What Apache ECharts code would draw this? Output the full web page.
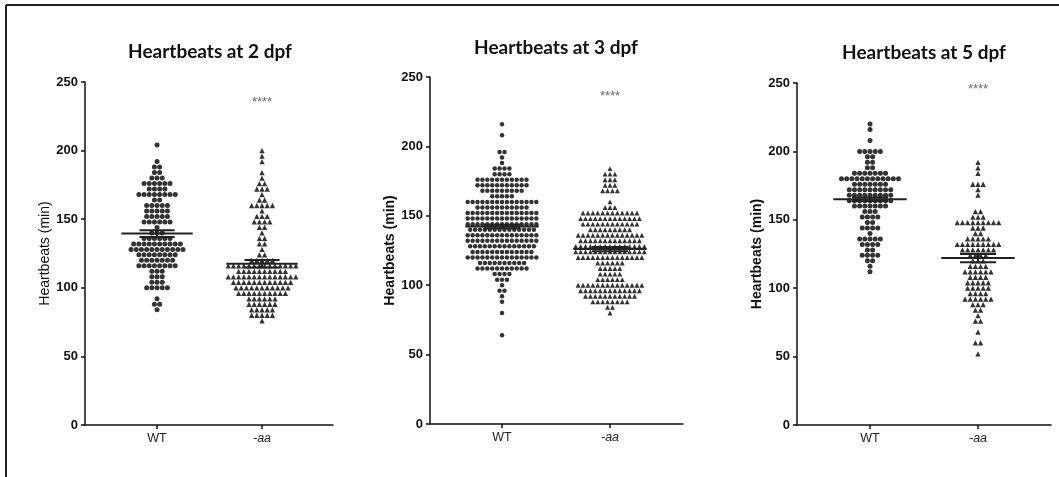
<!DOCTYPE html>
<html>
<head>
<meta charset="utf-8">
<script src="https://cdn.jsdelivr.net/npm/echarts@6/dist/echarts.min.js"></script>
<style>
  html, body { margin: 0; padding: 0; background: #fff; }
  #chart { width: 1059px; height: 477px; }
</style>
</head>
<body>
<div id="chart"></div>
<script>
const categories = ['WT', '-aa'];
const titles = ['Heartbeats at 2 dpf', 'Heartbeats at 3 dpf', 'Heartbeats at 5 dpf'];
const yTicks = [0, 50, 100, 150, 200, 250];

const wt2 = [[204,1],[192,1],[188,2],[184,2],[180,3],[176,6],[172,4],[168,8],[164,2],[160,5],[156,5],[152,5],[148,6],[144,1],[140,3],[136,6],[132,10],[128,11],[124,8],[120,7],[116,8],[112,3],[108,3],[104,3],[100,5],[92,1],[88,2],[84,1]];
const aa2 = [[200,1],[196,1],[192,1],[184,1],[180,1],[176,2],[172,3],[168,1],[164,2],[160,5],[156,1],[152,3],[148,4],[144,2],[140,1],[136,2],[132,2],[128,1],[124,2],[120,5],[116,14],[112,10],[108,14],[104,12],[100,11],[96,10],[92,6],[88,6],[84,5],[80,5],[76,1]];
const wt3 = [[216,1],[208,1],[196,2],[192,1],[188,1],[184,4],[180,4],[176,11],[172,11],[168,9],[164,5],[160,15],[156,11],[152,15],[148,15],[144,15],[140,14],[136,15],[132,15],[128,14],[124,13],[120,15],[116,10],[112,11],[108,4],[104,3],[100,1],[96,2],[92,1],[88,1],[80,1],[64,1]];
const aa3 = [[184,1],[180,3],[176,3],[172,3],[168,4],[160,1],[156,3],[152,12],[148,13],[144,12],[140,9],[136,14],[132,13],[128,15],[124,15],[120,14],[116,6],[112,5],[108,5],[104,6],[100,14],[96,13],[92,11],[88,8],[84,2],[80,1]];
const wt5 = [[220,1],[216,1],[208,1],[200,5],[196,2],[192,2],[188,2],[184,7],[180,12],[176,7],[172,9],[168,9],[164,9],[160,7],[156,3],[152,4],[148,2],[144,4],[140,1],[136,5],[132,4],[128,2],[124,4],[120,2],[116,1],[112,1]];
const aa5 = [[192,1],[188,1],[184,1],[176,3],[172,1],[168,1],[156,2],[152,3],[148,9],[144,3],[140,2],[136,5],[132,9],[128,7],[124,4],[120,3],[116,4],[112,6],[108,4],[104,5],[100,5],[96,4],[92,6],[88,3],[84,2],[80,1],[76,2],[68,1],[60,2],[52,1]];

// mean and SEM per group [WT, -aa]
const means = [[139.5, 117.5], [142.3, 126], [165, 122]];
const sems = [[2.5, 2.7], [1.3, 1.5], [1.3, 3]];
const starY = [235, 236, 245];

const groups = [[wt2, aa2], [wt3, aa3], [wt5, aa5]];

// layout of the three panels
const grids = [
  { left: 85, top: 82, width: 248, bottom: 52 },
  { left: 430, top: 77, width: 253, bottom: 53 },
  { left: 797, top: 83, width: 254, bottom: 52 }
];
const xRange = [[-0.686, 1.676], [-0.667, 1.676], [-0.676, 1.676]];
const step = [0.0495, 0.0454, 0.048];
const titlePos = [[210, 52], [556, 48], [924, 53]];
const nameBold = [false, true, true];

// spread each row of equal values sideways around the group centre
function swarm(rows, center, dx) {
  const pts = [];
  rows.forEach(([v, n]) => {
    for (let k = 0; k < n; k++) pts.push([center + (k - (n - 1) / 2) * dx, v]);
  });
  return pts;
}

const font = "'Liberation Sans', Arial, sans-serif";
const black = '#111';

const option = {
  animation: false,
  backgroundColor: '#fff',
  title: titles.map((t, i) => ({
    text: t,
    left: titlePos[i][0],
    top: titlePos[i][1],
    padding: 0,
    textAlign: 'center',
    textVerticalAlign: 'middle',
    textStyle: { fontFamily: 'Lato, sans-serif', fontWeight: 'bold', fontSize: 19, color: black }
  })),
  grid: grids.map(g => Object.assign({ containLabel: false }, g)),
  xAxis: grids.map((g, i) => ({
    gridIndex: i,
    type: 'value',
    min: xRange[i][0],
    max: xRange[i][1],
    splitLine: { show: false },
    axisLine: { onZero: false, lineStyle: { color: black, width: 1.5 } },
    axisTick: { show: true, customValues: [0, 1], length: 4, lineStyle: { color: black, width: 1.5 } },
    axisLabel: {
      customValues: [0, 1],
      formatter: v => (Math.round(v) === 0 ? categories[0] : '{i|' + categories[1] + '}'),
      color: '#222', fontFamily: font, fontSize: 12.5, margin: 7,
      rich: { i: { fontStyle: 'italic', fontFamily: font, fontSize: 12.5, color: '#222' } }
    }
  })),
  yAxis: grids.map((g, i) => ({
    gridIndex: i,
    type: 'value',
    min: yTicks[0],
    max: yTicks[yTicks.length - 1],
    interval: 50,
    splitLine: { show: false },
    axisLine: { show: true, onZero: false, lineStyle: { color: black, width: 1.5 } },
    axisTick: { show: true, length: 4, lineStyle: { color: black, width: 1.5 } },
    axisLabel: { color: black, fontFamily: font, fontWeight: 'bold', fontSize: 13, margin: 7 },
    name: 'Heartbeats (min)',
    nameLocation: 'middle',
    nameGap: 33,
    nameTextStyle: { color: black, fontFamily: font, fontSize: 14, fontWeight: nameBold[i] ? 'bold' : 'normal' }
  })),
  series: [],
  graphic: [
    { type: 'line', shape: { x1: 6, y1: 5, x2: 1059, y2: 5 }, style: { stroke: '#222', lineWidth: 2 } },
    { type: 'line', shape: { x1: 6, y1: 5, x2: 6, y2: 477 }, style: { stroke: '#222', lineWidth: 2 } }
  ]
};

groups.forEach((pair, i) => {
  pair.forEach((rows, c) => {
    option.series.push({
      type: 'scatter',
      xAxisIndex: i,
      yAxisIndex: i,
      symbol: c === 0 ? 'circle' : 'triangle',
      symbolSize: c === 0 ? (i === 1 ? 4.5 : 5) : (i === 1 ? 4.9 : 5.3),
      itemStyle: { color: '#000' },
      data: swarm(rows, c, step[i]),
      z: 2
    });
  });
  // mean with SEM bars
  option.series.push({
    type: 'custom',
    xAxisIndex: i,
    yAxisIndex: i,
    z: 3,
    data: [0, 1].map(c => [c, means[i][c], sems[i][c]]),
    renderItem: (params, api) => {
      const c = api.value(0), m = api.value(1), s = api.value(2);
      const ml = api.coord([c - 0.34, m]), mr = api.coord([c + 0.34, m]);
      const tl = api.coord([c - 0.167, m + s]), tr = api.coord([c + 0.167, m + s]);
      const bl = api.coord([c - 0.167, m - s]), br = api.coord([c + 0.167, m - s]);
      const st = { stroke: '#222', lineWidth: 2 };
      return {
        type: 'group',
        children: [
          { type: 'line', shape: { x1: ml[0], y1: ml[1], x2: mr[0], y2: mr[1] }, style: st },
          { type: 'line', shape: { x1: tl[0], y1: tl[1], x2: tr[0], y2: tr[1] }, style: st },
          { type: 'line', shape: { x1: bl[0], y1: bl[1], x2: br[0], y2: br[1] }, style: st },
          { type: 'line', shape: { x1: (tl[0] + tr[0]) / 2, y1: tl[1], x2: (bl[0] + br[0]) / 2, y2: bl[1] }, style: st }
        ]
      };
    }
  });
  // significance stars over the -aa group
  option.series.push({
    type: 'scatter',
    xAxisIndex: i,
    yAxisIndex: i,
    symbolSize: 0,
    silent: true,
    data: [[1, starY[i]]],
    label: { show: true, position: 'inside', formatter: '****', color: '#444', fontFamily: font, fontSize: 13 }
  });
});

const chart = echarts.init(document.getElementById('chart'));
chart.setOption(option);
</script>
</body>
</html>
